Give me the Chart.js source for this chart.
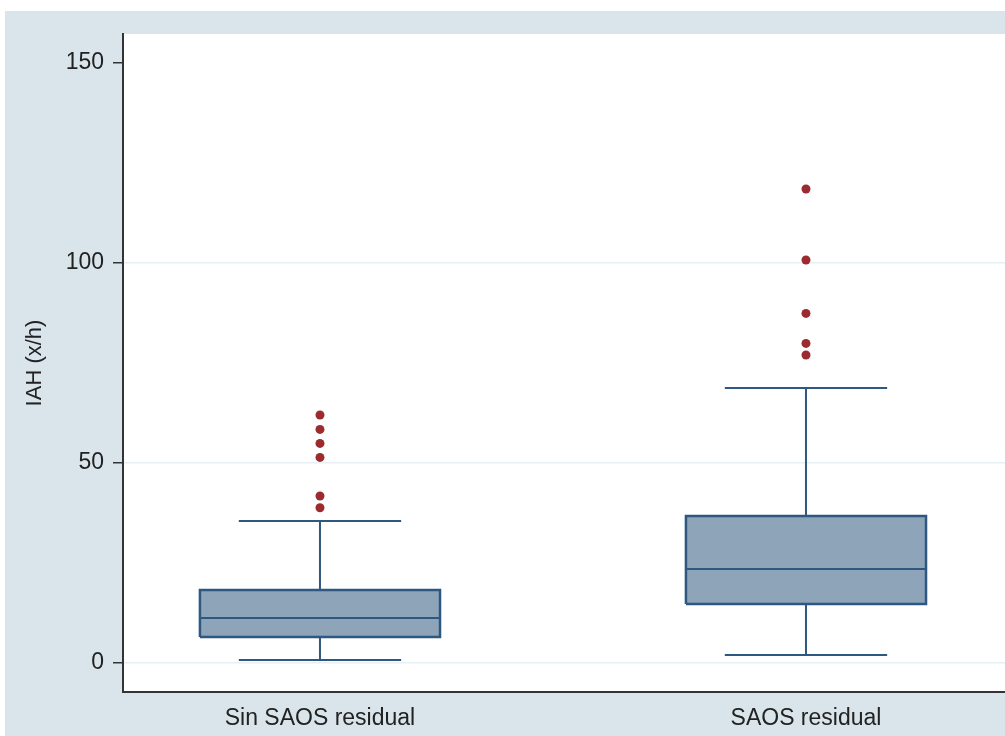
<!DOCTYPE html>
<html>
<head>
<meta charset="utf-8">
<script src="https://cdn.jsdelivr.net/npm/chart.js@4.4.1/dist/chart.umd.min.js"></script>
<style>
  body { margin: 0; background: #fff; }
  #wrap { position: absolute; left: 5px; top: 11px; width: 1000px; height: 725px; background: #d9e5eb; }
</style>
</head>
<body>
<div id="wrap"><canvas id="chart" width="1000" height="725"></canvas></div>
<script>
// box plot values
const categories = ["Sin SAOS residual", "SAOS residual"];
const whiskerLow = [0.75, 2];
const q1 = [6.5, 14.75];
const median = [11.25, 23.5];
const q3 = [18.25, 36.75];
const whiskerHigh = [35.5, 68.75];
const outliers = [
  [38.8, 41.75, 51.4, 54.9, 58.4, 62],
  [77, 79.9, 87.4, 100.75, 118.5]
];
const yTicks = [0, 50, 100, 150];

const boxHalf = 0.247;
const capHalf = 0.167;
const boxFill = "#8da4b9";
const boxLine = "#2f5880";
const dotColor = "#9c2b30";

const datasets = [];

// boxes
categories.forEach((c, i) => {
  const x = i + 1;
  datasets.push({
    data: [
      { x: x - boxHalf, y: q1[i] },
      { x: x + boxHalf, y: q1[i] },
      { x: x + boxHalf, y: q3[i] },
      { x: x - boxHalf, y: q3[i] },
      { x: x - boxHalf, y: q1[i] }
    ],
    order: 3,
    fill: "shape",
    backgroundColor: boxFill,
    borderColor: boxLine,
    borderWidth: 2.5,
    pointRadius: 0,
    tension: 0
  });
});

// medians, whiskers and caps as line segments
const segs = [];
categories.forEach((c, i) => {
  const x = i + 1;
  segs.push({ x: x - boxHalf, y: median[i] }, { x: x + boxHalf, y: median[i] }, { x: x, y: null });
  segs.push({ x: x, y: q3[i] }, { x: x, y: whiskerHigh[i] }, { x: x, y: null });
  segs.push({ x: x, y: q1[i] }, { x: x, y: whiskerLow[i] }, { x: x, y: null });
  segs.push({ x: x - capHalf, y: whiskerHigh[i] }, { x: x + capHalf, y: whiskerHigh[i] }, { x: x, y: null });
  segs.push({ x: x - capHalf, y: whiskerLow[i] }, { x: x + capHalf, y: whiskerLow[i] }, { x: x, y: null });
});
datasets.push({
  data: segs,
  order: 1,
  borderColor: boxLine,
  borderWidth: 2,
  pointRadius: 0,
  spanGaps: false,
  fill: false
});

// outside values
const dots = [];
outliers.forEach((list, i) => list.forEach(v => dots.push({ x: i + 1, y: v })));
datasets.push({
  data: dots,
  order: 0,
  showLine: false,
  pointRadius: 4.5,
  pointBackgroundColor: dotColor,
  pointBorderWidth: 0
});

const plotBg = {
  id: "plotBg",
  beforeDraw(chart) {
    const a = chart.chartArea;
    chart.ctx.save();
    chart.ctx.fillStyle = "#ffffff";
    chart.ctx.fillRect(a.left, a.top, a.right - a.left, a.bottom - a.top);
    chart.ctx.restore();
  }
};

const font = { family: "'Liberation Sans', Arial, sans-serif", size: 23 };

new Chart(document.getElementById("chart"), {
  type: "line",
  data: { datasets },
  plugins: [plotBg],
  options: {
    responsive: false,
    animation: false,
    layout: { autoPadding: false, padding: { top: 23, right: 0, left: 0, bottom: 0 } },
    plugins: { legend: { display: false }, tooltip: { enabled: false } },
    scales: {
      x: {
        type: "linear",
        min: 0.5947,
        max: 2.4095,
        afterBuildTicks: s => { s.ticks = categories.map((c, i) => ({ value: i + 1 })); },
        afterFit: s => { s.height = 44; },
        ticks: {
          font,
          color: "#222",
          padding: 13,
          maxRotation: 0,
          callback: v => categories[v - 1]
        },
        grid: { display: false, drawTicks: false },
        border: { display: true, color: "#333", width: 2 }
      },
      y: {
        min: -7.25,
        max: 157.25,
        afterBuildTicks: s => { s.ticks = yTicks.map(v => ({ value: v })); },
        afterFit: s => { s.width = 118; },
        ticks: { font, color: "#222", padding: 9 },
        grid: {
          color: ctx => (ctx.tick && ctx.tick.value === 150 ? "rgba(0,0,0,0)" : "#e6eff1"),
          lineWidth: 1.5,
          drawTicks: true,
          tickLength: 10,
          tickColor: "#333",
          tickWidth: 1.5
        },
        border: { display: true, color: "#333", width: 2 },
        title: {
          display: true,
          text: "IAH (x/h)",
          font: { family: "'Liberation Sans', Arial, sans-serif", size: 22 },
          color: "#222",
          padding: { top: 17, bottom: 0 }
        }
      }
    }
  }
});
</script>
</body>
</html>
